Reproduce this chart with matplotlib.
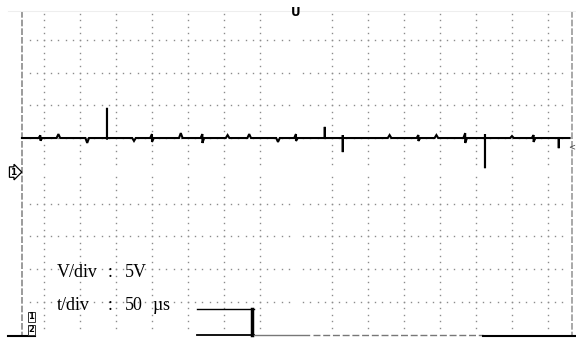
import matplotlib.pyplot as plt
import numpy as np

# trace events: time (us), top of the glitch (V), bottom of the glitch (V)
glitch_t = [-5, 20, 60, 87.5, 125, 150, 190, 220, 255, 285, 325, 350,
            390, 415, 480, 520, 545, 585, 612.5, 650, 680, 715]
glitch_hi = [0.4, 0.6, 0, 4.6, 0, 0.6, 0.75, 0.6, 0.45, 0.6, 0, 0.6,
             1.7, 0.45, 0.45, 0.45, 0.45, 0.75, 0.6, 0.3, 0.45, 0]
glitch_lo = [-0.4, 0, -0.75, -0.2, -0.45, -0.6, 0, -0.75, 0, 0, -0.6, -0.45,
             0, -2.15, 0, -0.45, 0, -0.75, -4.6, 0, -0.6, -1.55]
t_start, t_end = -30.6, 730

# grid: 50 us / div, 5 V / div
grid_t = np.arange(0, 701, 50)
grid_v = np.arange(15, -26, -5)
center_t, center_v = 350, -5   # centre cross not printed on the scan

# screen frame
x_left, x_right = -30.6, 733
v_top, v_bot = 19.4, -30.1

fig = plt.figure(figsize=(5.76, 3.38), dpi=100)
ax = fig.add_axes([0, 0, 1, 1])
ax.set_xlim(-61.1, 738.9)
ax.set_ylim(-30.53, 21.07)
ax.axis('off')

dot = dict(ls='none', marker='s', ms=1.0, mec='none', mfc='#8c8c8c')

# dotted horizontal grid lines
hx = np.arange(-20, 721, 10)
hx = hx[np.abs(hx - center_t) > 4]
for v in grid_v:
    if v == center_v:
        continue
    ax.plot(hx, np.full(hx.shape, v), **dot)

# dotted vertical grid lines
vy = np.arange(19, -30, -1)
vy = vy[np.abs(vy - center_v) > 0.5]
for t in grid_t:
    if t == center_t:
        continue
    ax.plot(np.full(vy.shape, t), vy, **dot)

# frame
ax.plot([x_left, x_left], [v_top, v_bot], color='#8a8a8a', lw=1.2, ls=(0, (4, 1.2)))
ax.plot([x_right, x_right], [v_top, v_bot], color='#9a9a9a', lw=1.2, ls=(0, (4, 1.2)))
ax.plot([-50, 738], [v_top, v_top], color='#eeeeee', lw=0.8)

# trace: small glitches drawn as little carets, big ones as straight spikes
tx, ty = [t_start], [0.0]
for t, hi, lo in zip(glitch_t, glitch_hi, glitch_lo):
    w = 0.0 if max(hi, -lo) > 1 else 2.5
    tx.append(t - w)
    ty.append(0.0)
    if hi:
        tx.append(t)
        ty.append(hi)
    if lo:
        tx.append(t)
        ty.append(lo)
    tx.append(t + w)
    ty.append(0.0)
tx.append(t_end)
ty.append(0.0)
ax.plot(tx, ty, color='black', lw=1.5, solid_joinstyle='miter')

# bottom edge pieces
ax.plot([-50, -12], [-30.3, -30.3], color='black', lw=1.5)
ax.plot([212, 292], [-26.1, -26.1], color='black', lw=1.0)
ax.plot([289.5, 289.5], [-26.1, -30.1], color='black', lw=2.5)
ax.plot([212, 292], [-30.0, -30.0], color='black', lw=1.3)
ax.plot([292, 368], [-30.1, -30.1], color='#777777', lw=1.0)
ax.plot([373, 610], [-30.1, -30.1], color='#777777', lw=1.0, ls=(0, (5, 2)))
ax.plot([610, 740], [-30.2, -30.2], color='black', lw=1.5)

# markers
ax.text(-47, -5.2, '1', fontsize=6.5, fontweight='bold', ha='left', va='center',
        bbox=dict(boxstyle='rarrow,pad=0.08', fc='white', ec='black', lw=0.9))
ax.text(350, 19.2, 'U', fontsize=8.5, fontweight='heavy', ha='center', va='center')
ax.text(733, -1.3, '<', fontsize=6, color='#444444', ha='center', va='center')
ax.text(-17.5, -27.3, '1', fontsize=6, fontweight='bold', ha='center', va='center',
        bbox=dict(boxstyle='square,pad=0.08', fc='white', ec='#333333', lw=0.7))
ax.text(-17.5, -29.3, '2', fontsize=6, fontweight='bold', ha='center', va='center',
        bbox=dict(boxstyle='square,pad=0.08', fc='white', ec='#333333', lw=0.7))

# scale labels, spaced out as on the scope print
serif = dict(fontsize=13, family='Liberation Serif', ha='left', va='baseline')
ax.text(18.1, -21.2, 'V/div', **serif)
ax.text(88.9, -21.2, ':', **serif)
ax.text(112.5, -21.2, '5V', **serif)
ax.text(18.1, -26.3, 't/div', **serif)
ax.text(88.9, -26.3, ':', **serif)
ax.text(112.5, -26.3, '50', **serif)
ax.text(150.0, -26.3, '\u00b5', **serif)
ax.text(163.9, -26.3, 's', **serif)

fig.savefig('out.png', dpi=100)
